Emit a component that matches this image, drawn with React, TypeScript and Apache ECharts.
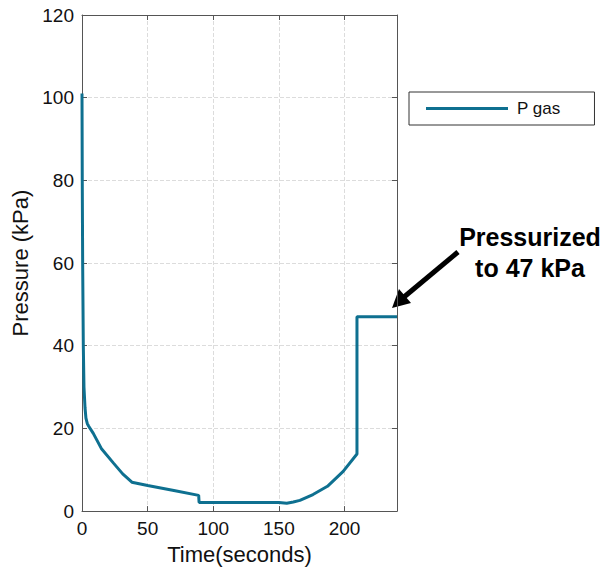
import React, { useEffect, useRef } from "react";
import * as echarts from "echarts";

const timeSec = [0, 0.2, 0.5, 1, 1.5, 2.3, 3, 4, 5, 8.6, 15, 24, 31, 38, 50, 70, 88.9, 89.2, 90, 120, 150, 156, 161, 166, 176, 187, 199, 209.5, 209.5, 240];
const pressureKPa = [101, 80, 60, 40, 30, 25, 22.5, 21.2, 20.6, 18.8, 15, 11.6, 9, 7, 6.2, 5, 3.8, 2.1, 2.1, 2.1, 2.1, 1.9, 2.2, 2.6, 4.0, 6.0, 9.6, 13.8, 47, 47];
const xTicks = [0, 50, 100, 150, 200];
const seriesName = "P gas";
const annotationLines = ["Pressurized", "to 47 kPa"];

const FONT = "'Liberation Sans', Arial, sans-serif";
const AXIS_COLOR = "#555";
const LINE_COLOR = "#0e7090";

export default function App() {
  const ref = useRef<HTMLDivElement>(null);
  useEffect(() => {
    if (!ref.current) return;
    const chart = echarts.init(ref.current, undefined, { renderer: "svg" });
    const data = timeSec.map((t, i) => [t, pressureKPa[i]]);
    const tickStyle = { show: true, inside: true, length: 5, lineStyle: { color: AXIS_COLOR } };
    chart.setOption({
      animation: false,
      backgroundColor: "#fff",
      grid: { left: 82, top: 15, right: 208, bottom: 55 },
      legend: {
        data: [{ name: seriesName, icon: "rect" }],
        left: 409,
        top: 92,
        padding: [8, 34, 8, 17],
        itemWidth: 82,
        itemHeight: 3,
        borderColor: "#333",
        borderWidth: 1,
        textStyle: { fontSize: 17, color: "#111", fontFamily: FONT, padding: [0, 0, 0, 4] },
      },
      xAxis: [
        {
          type: "value",
          min: 0,
          max: 240,
          interval: 50,
          position: "bottom",
          name: "Time(seconds)",
          nameLocation: "middle",
          nameGap: 31,
          nameTextStyle: { fontSize: 22, color: "#111", fontFamily: FONT },
          axisLine: { show: true, onZero: false, lineStyle: { color: AXIS_COLOR } },
          axisTick: tickStyle,
          axisLabel: {
            fontSize: 19,
            color: "#111",
            fontFamily: FONT,
            margin: 8,
            formatter: (v: number) => (xTicks.includes(v) ? String(v) : ""),
          },
          splitLine: { show: true, lineStyle: { color: "#dcdcdc", type: "dashed" } },
        },
        {
          type: "value",
          min: 0,
          max: 240,
          interval: 50,
          position: "top",
          axisLine: { show: true, onZero: false, lineStyle: { color: AXIS_COLOR } },
          axisTick: tickStyle,
          axisLabel: { show: false },
          splitLine: { show: false },
        },
      ],
      yAxis: [
        {
          type: "value",
          min: 0,
          max: 120,
          interval: 20,
          position: "left",
          name: "Pressure (kPa)",
          nameLocation: "middle",
          nameGap: 48,
          nameTextStyle: { fontSize: 22, color: "#111", fontFamily: FONT },
          axisLine: { show: true, onZero: false, lineStyle: { color: AXIS_COLOR } },
          axisTick: tickStyle,
          axisLabel: { fontSize: 19, color: "#111", fontFamily: FONT, margin: 8 },
          splitLine: { show: true, lineStyle: { color: "#dcdcdc", type: "dashed" } },
        },
        {
          type: "value",
          min: 0,
          max: 120,
          interval: 20,
          position: "right",
          axisLine: { show: true, onZero: false, lineStyle: { color: AXIS_COLOR } },
          axisTick: tickStyle,
          axisLabel: { show: false },
          splitLine: { show: false },
        },
      ],
      series: [
        {
          name: seriesName,
          type: "line",
          xAxisIndex: 0,
          yAxisIndex: 0,
          data,
          symbol: "none",
          lineStyle: { color: LINE_COLOR, width: 3 },
          itemStyle: { color: LINE_COLOR },
        },
      ],
      graphic: [
        {
          type: "text",
          x: 530,
          y: 237,
          style: {
            text: annotationLines[0],
            font: `bold 25px ${FONT}`,
            fill: "#000",
            align: "center",
            verticalAlign: "middle",
          },
        },
        {
          type: "text",
          x: 530,
          y: 268,
          style: {
            text: annotationLines[1],
            font: `bold 25px ${FONT}`,
            fill: "#000",
            align: "center",
            verticalAlign: "middle",
          },
        },
        {
          type: "line",
          shape: { x1: 458, y1: 252, x2: 404, y2: 297 },
          style: { stroke: "#000", lineWidth: 5 },
        },
        {
          type: "polygon",
          shape: { points: [[392, 308], [411, 303], [399, 289]] },
          style: { fill: "#000" },
        },
      ],
    });
    return () => chart.dispose();
  }, []);
  return (
    <div
      ref={ref}
      style={{ position: "absolute", left: 0, top: 0, width: 605, height: 570 }}
    />
  );
}
